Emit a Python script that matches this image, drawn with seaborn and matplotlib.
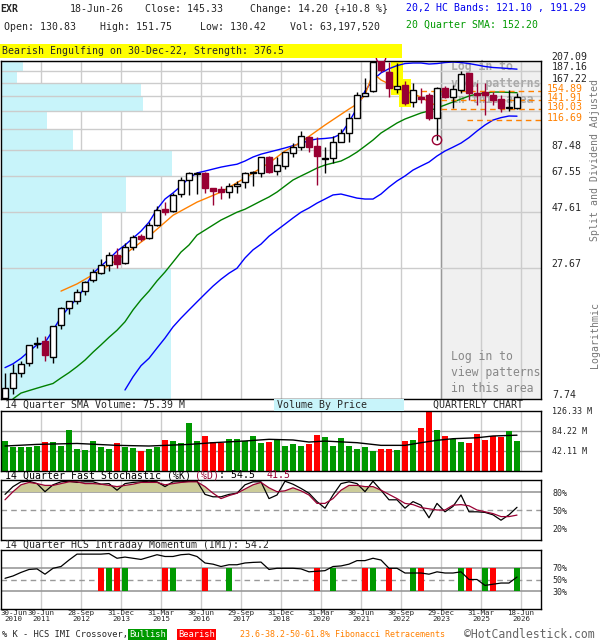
import numpy as np
import matplotlib
matplotlib.use("Agg")
import matplotlib.pyplot as plt
import matplotlib.transforms as mtransforms
from matplotlib.patches import Rectangle
from matplotlib.ticker import NullLocator
import seaborn as sns

sns.set_style("white")
plt.rcParams["font.family"] = ["DejaVu Sans Mono", "DejaVu Sans"]

# ---- quarterly data, 30-Jun-2010 .. 18-Jun-2026 (65 quarters) ----
date_labels = ["30-Jun\n2010", "30-Jun\n2011", "28-Sep\n2012", "31-Dec\n2013", "31-Mar\n2015",
               "30-Jun\n2016", "29-Sep\n2017", "31-Dec\n2018", "31-Mar\n2020", "30-Jun\n2021",
               "30-Sep\n2022", "29-Dec\n2023", "31-Mar\n2025", "18-Jun\n2026"]

opens = [7.8, 8.6, 10.0, 11.0, 13.2, 13.6, 11.7, 15.9, 18.7, 20.1,
         22.1, 24.6, 26.3, 28.5, 31.4, 29.0, 33.9, 37.7, 37.0, 42.0,
         49.0, 48.1, 56.8, 65.1, 69.3, 69.7, 60.2, 59.6, 57.9, 61.4,
         63.9, 69.7, 69.7, 81.4, 71.0, 74.6, 84.6, 89.6, 98.8, 90.5,
         79.8, 80.6, 94.1, 102.8, 118.9, 147.3, 154.7, 207.1, 186.1, 157.7,
         164.0, 139.0, 145.9, 148.7, 118.9, 159.2, 145.9, 156.2, 184.2, 151.7,
         153.1, 148.7, 143.0, 131.1, 130.83]
highs = [10.0, 10.9, 11.2, 13.1, 14.1, 14.3, 15.7, 18.9, 20.1, 22.5,
         24.4, 27.4, 30.2, 32.3, 33.6, 35.2, 38.1, 38.5, 43.2, 50.5,
         52.5, 57.4, 67.0, 70.3, 70.3, 70.3, 60.2, 61.4, 63.2, 64.5,
         70.3, 71.0, 81.4, 82.2, 81.4, 85.4, 93.2, 104.8, 99.8, 98.8,
         89.6, 99.8, 106.9, 124.9, 153.1, 175.5, 205.1, 213.2, 205.1, 203.1,
         170.5, 167.2, 159.2, 151.7, 160.8, 162.4, 164.0, 187.9, 184.2, 167.2,
         167.2, 153.1, 148.7, 156.2, 151.75]
lows = [7.7, 8.1, 9.6, 10.7, 12.7, 11.2, 11.0, 15.3, 17.7, 19.5,
        21.2, 24.1, 26.1, 26.9, 27.6, 28.7, 32.9, 35.9, 36.6, 41.6,
        46.2, 47.6, 55.2, 56.3, 56.8, 57.4, 51.0, 54.1, 54.6, 57.4,
        60.2, 61.4, 67.0, 69.7, 68.3, 72.4, 81.4, 87.1, 85.4, 62.0,
        69.7, 76.8, 94.1, 94.1, 118.9, 147.3, 153.1, 186.1, 145.9, 151.7,
        135.0, 132.4, 137.6, 116.6, 96.0, 144.4, 131.1, 151.7, 141.7, 135.0,
        122.5, 135.0, 126.1, 127.4, 130.42]
closes = [8.6, 10.0, 10.9, 13.1, 13.4, 11.9, 15.7, 18.7, 20.1, 21.9,
          24.1, 26.6, 28.5, 31.4, 28.7, 33.9, 37.4, 36.6, 42.0, 48.6,
          47.6, 56.3, 65.1, 69.7, 69.9, 60.2, 58.5, 57.9, 61.4, 62.6,
          69.7, 70.3, 81.4, 70.3, 75.3, 85.4, 89.6, 99.8, 89.6, 82.2,
          80.6, 94.1, 102.8, 118.9, 148.7, 151.7, 205.1, 189.7, 159.2, 162.4,
          137.6, 156.2, 143.0, 118.9, 159.2, 145.9, 157.7, 182.5, 151.7, 148.7,
          148.7, 141.7, 131.1, 132.4, 145.33]
volumes = [63.2, 51.2, 50.5, 50.5, 52.6, 61.1, 61.1, 52.6, 86.3, 47.0,
           44.2, 63.2, 50.5, 47.0, 59.0, 50.5, 48.4, 42.1, 47.0, 51.2,
           65.3, 63.2, 59.0, 101.1, 63.2, 73.7, 61.1, 58.2, 67.4, 67.4,
           62.5, 73.7, 59.0, 61.1, 66.0, 52.6, 56.8, 52.6, 56.8, 75.8,
           71.6, 52.6, 69.5, 52.6, 46.3, 50.5, 42.1, 46.3, 46.3, 44.2,
           63.2, 65.3, 90.5, 125.6, 86.3, 73.7, 67.4, 61.1, 59.0, 77.9,
           65.3, 73.7, 72.3, 84.2, 63.2]

# 20,2 HC bands and 20 quarter SMA
upper_band = [10.5, 10.9, 11.5, 12.3, 13.1, 13.4, 15.1, 17.2, 18.9, 20.6,
              23.0, 26.3, 28.2, 30.2, 32.6, 34.6, 37.0, 39.6, 43.2, 49.0,
              54.1, 57.4, 61.4, 66.4, 69.7, 71.0, 72.4, 73.8, 74.9, 75.9,
              78.3, 81.4, 83.7, 85.4, 87.1, 88.9, 90.9, 92.8, 95.6, 97.0,
              97.5, 98.3, 101.8, 114.4, 131.1, 154.7, 172.2, 184.5, 192.1, 198.0,
              202.0, 203.1, 203.1, 201.1, 202.0, 204.0, 205.1, 204.0, 202.0, 199.2,
              196.3, 194.4, 193.5, 192.4, 191.29]
lower_start = 15
lower_band = [8.45, 9.6, 10.7, 11.5, 12.7, 14.0, 15.6, 17.0, 18.4, 19.9,
              21.5, 23.2, 24.8, 26.3, 27.6, 30.5, 33.0, 34.9, 37.7, 40.0,
              42.4, 45.0, 47.6, 49.6, 52.0, 54.1, 56.3, 56.8, 55.7, 54.6,
              54.1, 54.1, 56.8, 60.8, 64.5, 67.7, 71.7, 74.6, 77.5, 82.2,
              86.3, 89.6, 93.2, 98.3, 104.8, 111.1, 116.6, 119.4, 121.3, 121.1]
sma_start = 1
sma20 = [7.75, 8.2, 8.4, 8.6, 8.8, 9.0, 9.5, 10.0, 10.6,
         11.3, 12.2, 13.1, 14.1, 15.1, 16.4, 18.4, 20.3, 22.1, 24.4,
         26.6, 29.3, 32.3, 34.6, 38.1, 40.0, 42.0, 44.1, 45.8, 47.6,
         49.0, 51.0, 53.1, 55.2, 57.9, 61.4, 65.1, 67.7, 70.3, 73.1,
         75.3, 76.8, 78.3, 81.4, 85.4, 90.5, 96.0, 102.8, 107.9, 113.3,
         117.8, 121.3, 124.9, 127.4, 131.1, 135.0, 139.0, 143.0, 147.3, 150.2,
         151.7, 153.1, 153.1, 152.6, 152.2]

trend_q = [7, 9, 12, 14, 18, 21, 24, 27, 30, 33, 35, 37, 40, 43, 44, 45, 46,
           47, 48, 49, 50, 51, 52, 53, 54]
trend_val = [22.1, 23.7, 27.1, 29.9, 37.7, 46.2, 52.5, 57.9, 66.4, 76.8, 86.3, 94.1, 111.1,
             129.8, 136.3, 148.7, 184.2, 172.2, 165.6, 159.2, 154.7, 150.2, 145.9, 139.0, 133.7]

fib_levels = [154.89, 141.91, 130.03, 116.69]
fib_from = [52, 54.5, 54.5, 57.75]

# price ladder and volume by price (relative)
price_levels = [207.09, 187.16, 167.22, 147.29, 127.36, 107.42, 87.48, 67.55, 47.61, 27.67, 7.74]
shown_levels = [207.09, 187.16, 167.22, 87.48, 67.55, 47.61, 27.67, 7.74]
vbp_volume = [22, 16, 140, 142, 46, 72, 171, 125, 101, 170]

vol_sma_q = [0, 4, 9, 14, 18, 23, 26, 30, 33, 36, 38, 40, 44, 47, 50, 52, 54, 56, 59, 61, 64]
vol_sma = [52.6, 56, 58, 54, 52.6, 56, 59.6, 63.2, 66.7, 65.3, 61, 63, 59.6, 54, 54,
           59.6, 64.6, 68, 70, 73.7, 75.39]

stoch_k = [76, 89, 97, 98, 94, 80.5, 92, 97, 98, 96,
           97, 97, 93, 94, 83, 94, 96, 97, 98, 97,
           89, 97, 97, 98, 98, 76, 72, 72, 76, 78,
           92, 97, 97, 69, 75, 98, 93, 86, 78, 64,
           53, 75, 94, 97, 94, 80.5, 98, 83, 67, 67,
           53, 64, 58, 37, 61, 47, 56, 75, 47, 47,
           46, 42, 33, 42, 54.5]
stoch_d = [67, 80.5, 92, 96, 94, 91, 91, 94, 97, 97,
           94, 94, 93, 91, 89, 91, 93, 96, 96, 96,
           92, 94, 96, 97, 97, 89, 78, 69, 74, 78,
           85, 92, 96, 87, 80.5, 82, 87, 82, 75, 61,
           61, 69, 83, 91, 91, 89, 89, 83, 76, 69,
           61, 59, 54, 52, 50, 50, 58, 59, 57, 50,
           47, 44, 39, 39, 41.5]
imi = [52, 56, 62, 67, 68, 59, 69, 72, 83, 93,
       93, 93, 93, 94, 86, 88, 86, 84, 88, 92,
       89, 89, 92, 93, 89, 78, 76, 72, 75, 75,
       78, 79, 79.5, 67, 69, 69, 69, 68, 63, 64,
       65, 72, 73, 76, 82, 82, 86, 83, 69, 69,
       61, 61, 61, 59, 63, 61, 61, 63, 50, 50,
       40, 42, 44, 44, 54.2]
bullish_q = [13, 15, 21, 28, 41, 46, 51, 57, 60, 64]
bearish_q = [12, 14, 20, 25, 39, 45, 48, 52, 58, 61]
pattern_q = [49, 50]

MAROON = "#990033"
ORANGE = "#ff8000"
CYAN = "#c8f4fa"
W, H = 600, 640
FS = 7.1
CW = FS * 100 / 72 * 0.602

fig = plt.figure(figsize=(6, 6.4), dpi=100)


def box(x0, y0, x1, y1):
    a = fig.add_axes([x0 / W, 1 - y1 / H, (x1 - x0) / W, (y1 - y0) / H])
    for s in a.spines.values():
        s.set_color("black")
        s.set_linewidth(1)
    return a


def txt(x, y, s, size=FS, **kw):
    kw.setdefault("va", "center")
    kw.setdefault("ha", "left")
    fig.text(x / W, 1 - y / H, s, fontsize=size, **kw)


n = len(closes)
q = np.arange(n)
grid_q = [4.5 + 5 * k for k in range(13)]
XMAX = 67

# ---------------- price panel ----------------
ax = box(1, 61, 541, 399)
ax.set_yscale("log")
ax.set_xlim(-0.5, XMAX)
ax.set_ylim(price_levels[-1], price_levels[0])
ax.axvspan(54.5, XMAX, color="#f0f0f0", lw=0, zorder=0.2)
for g in grid_q:
    ax.axvline(g, color="#cccccc", lw=1, zorder=0.5)
ax.axvline(54.5, color="#999999", lw=1, zorder=0.6)
vmax = max(vbp_volume)
for k, vol in enumerate(vbp_volume):
    top, bot = price_levels[k], price_levels[k + 1]
    ax.barh(bot, vol / vmax * 21.4, left=-0.5, height=top - bot, align="edge",
            color=CYAN, lw=0, zorder=1)
for lv in price_levels:
    ax.axhline(lv, color="#cccccc", lw=1, zorder=1.5)

for i in pattern_q:
    ax.add_patch(Rectangle((i - 0.72, lows[i] * 0.98), 1.44, highs[i] * 1.02 - lows[i] * 0.98,
                           color="yellow", lw=0, zorder=2))

for yy, c, w in [(0.935, "#aaaaaa", "bold"), (0.077, "#888888", "normal")]:
    ax.text(55.8, yy, "Log in to\nview patterns\nin this area", transform=ax.get_xaxis_transform(),
            fontsize=8.3, color=c, fontweight=w, va="center", ha="left", linespacing=1.3, zorder=2.1)

sns.lineplot(x=q, y=upper_band, ax=ax, color="#0000ff", lw=1, zorder=2.5)
sns.lineplot(x=q[lower_start:], y=lower_band, ax=ax, color="#0000ff", lw=1, zorder=2.5)
sns.lineplot(x=q[sma_start:], y=sma20, ax=ax, color="#008000", lw=1, zorder=2.5)
sns.lineplot(x=trend_q, y=trend_val, ax=ax, color=ORANGE, lw=1, zorder=2.5)
for lv, st in zip(fib_levels, fib_from):
    ax.hlines(lv, st, XMAX, colors=ORANGE, linestyles=(0, (4, 3)), lw=1, zorder=2.5)

for i in q:
    up = closes[i] >= opens[i]
    col = "black" if up else MAROON
    ax.vlines(i, lows[i], highs[i], color=col, lw=1, zorder=3)
    lo, hi = min(opens[i], closes[i]), max(opens[i], closes[i])
    ax.add_patch(Rectangle((i - 0.32, lo), 0.64, hi - lo, facecolor="white" if up else MAROON,
                           edgecolor=col, lw=1, zorder=4))

ax.scatter([47], [highs[47]], s=45, facecolors="none", edgecolors=MAROON, lw=1, zorder=5, clip_on=False)
ax.scatter([54], [lows[54]], s=45, facecolors="none", edgecolors=MAROON, lw=1, zorder=5, clip_on=False)

ax.set_xticks([])
ax.set_yticks([])
ax.yaxis.set_minor_locator(NullLocator())
ax.set_xlabel("")
ax.set_ylabel("")
blend = mtransforms.blended_transform_factory(ax.transAxes, ax.transData)
up4 = mtransforms.ScaledTranslation(0, 4 / 100, fig.dpi_scale_trans)
up1 = mtransforms.ScaledTranslation(0, 1.5 / 100, fig.dpi_scale_trans)
for lv in shown_levels:
    ax.text(1.02, lv, f"{lv:.2f}", transform=blend + up4, fontsize=FS, va="center", clip_on=False)
for lv in fib_levels:
    ax.text(1.011, lv, f"{lv:.2f}", transform=blend + up1, color=ORANGE, fontsize=FS,
            va="center", clip_on=False)

# ---------------- volume panel ----------------
av = box(1, 411, 541, 471)
av.set_xlim(-0.5, XMAX)
av.set_ylim(0, 126.33)
for g in grid_q:
    av.axvline(g, color="#cccccc", lw=1, zorder=0)
for lv in (42.11, 84.22):
    av.axhline(lv, color="#999999", lw=1, zorder=0.5)
vcol = ["#009900" if closes[i] >= opens[i] else "#ff0000" for i in q]
av.bar(q, volumes, width=0.72, color=vcol, lw=0, zorder=1)
sns.lineplot(x=vol_sma_q, y=vol_sma, ax=av, color="black", lw=1, zorder=2)

# ---------------- stochastic panel ----------------
asto = box(1, 480, 541, 540)
asto.set_xlim(-0.5, XMAX)
asto.set_ylim(0, 100)
for g in grid_q:
    asto.axvline(g, color="#cccccc", lw=1, zorder=0)
for lv in (20, 80):
    asto.axhline(lv, color="#999999", lw=1.2, zorder=0.5)
asto.axhline(50, color="#999999", lw=1, ls=(0, (4, 3)), zorder=0.5)
d_arr = np.array(stoch_d)
asto.fill_between(q, d_arr, 80, where=d_arr >= 80, interpolate=True, color="#cccc99", lw=0, zorder=1)
sns.lineplot(x=q, y=stoch_k, ax=asto, color="black", lw=0.9, zorder=2)
sns.lineplot(x=q, y=stoch_d, ax=asto, color=MAROON, lw=0.9, zorder=2)

# ---------------- IMI panel ----------------
am = box(1, 550, 541, 609)
am.set_xlim(-0.5, XMAX)
am.set_ylim(0, 100)
for g in grid_q:
    am.axvline(g, color="#cccccc", lw=1, zorder=0)
for lv in (30, 70):
    am.axhline(lv, color="#999999", lw=1.2, zorder=0.5)
am.axhline(50, color="#999999", lw=1, ls=(0, (4, 3)), zorder=0.5)
am.bar(bullish_q, 40, bottom=30, width=0.72, color="#009900", lw=0, zorder=1)
am.bar(bearish_q, 40, bottom=30, width=0.72, color="#ff0000", lw=0, zorder=1)
sns.lineplot(x=q, y=imi, ax=am, color="black", lw=0.9, zorder=2)

for a, ticks, labels in [(av, [42.11, 84.22, 126.33], ["42.11 M", "84.22 M", "126.33 M"]),
                         (asto, [20, 50, 80], ["20%", "50%", "80%"]),
                         (am, [30, 50, 70], ["30%", "50%", "70%"])]:
    a.yaxis.tick_right()
    a.set_yticks(ticks)
    a.set_yticklabels(labels)
    a.tick_params(axis="y", length=0, pad=8, labelsize=6)
    a.set_xticks([])
    a.set_xlabel("")
    a.set_ylabel("")

am.set_xticks([1.1] + grid_q)
am.set_xticklabels(date_labels, fontsize=5.4, linespacing=0.95)
am.tick_params(axis="x", length=0, pad=1)

# ---------------- texts ----------------
txt(0, 9, "EXR", fontweight="bold")
txt(70, 9, "18-Jun-26")
txt(145, 9, "Close: 145.33")
txt(250, 9, "Change: 14.20 {+10.8 %}")
txt(4, 27, "Open: 130.83")
txt(100, 27, "High: 151.75")
txt(200, 27, "Low: 130.42")
txt(290, 27, "Vol: 63,197,520")
txt(406, 8, "20,2 HC Bands: 121.10 , 191.29", color="#0000ee")
txt(406, 25, "20 Quarter SMA: 152.20", color="#009900")

fig.patches.append(Rectangle((0, 1 - 58 / H), 402 / W, 14 / H, transform=fig.transFigure,
                             color="yellow", lw=0, zorder=0))
txt(2, 51, "Bearish Engulfing on 30-Dec-22, Strength: 376.5")

txt(595, 160, "Split and Dividend Adjusted", rotation=90, ha="center", color="#777777")
txt(595, 335, "Logarithmic", rotation=90, ha="center", color="#777777")

txt(5, 405, "14 Quarter SMA Volume: 75.39 M")
fig.patches.append(Rectangle((274 / W, 1 - 411 / H), 130 / W, 12 / H, transform=fig.transFigure,
                             color=CYAN, lw=0, zorder=0))
txt(277, 405, "Volume By Price")
txt(433, 405, "QUARTERLY CHART")

x = 5
for s, c in [("14 Quarter Fast Stochastic (%K) ", "black"), ("(%D)", MAROON),
             (": 54.5  ", "black"), ("41.5", MAROON)]:
    txt(x, 475, s, color=c)
    x += len(s) * CW
txt(5, 545, "14 Quarter HCS Intraday Momentum (IMI): 54.2")

txt(2, 634.5, "% K - HCS IMI Crossover,", size=6.3)
txt(129, 634.5, "Bullish", size=6.3, color="white",
    bbox=dict(boxstyle="square,pad=0.15", fc="#009900", ec="none"))
txt(178, 634.5, "Bearish", size=6.3, color="white",
    bbox=dict(boxstyle="square,pad=0.15", fc="#ff0000", ec="none"))
txt(240, 634.5, "23.6-38.2-50-61.8% Fibonacci Retracements", size=6, color=ORANGE)
txt(464, 634.5, "\u00a9HotCandlestick.com", size=8.3, color="#666666")

fig.savefig("out.png", dpi=100)
